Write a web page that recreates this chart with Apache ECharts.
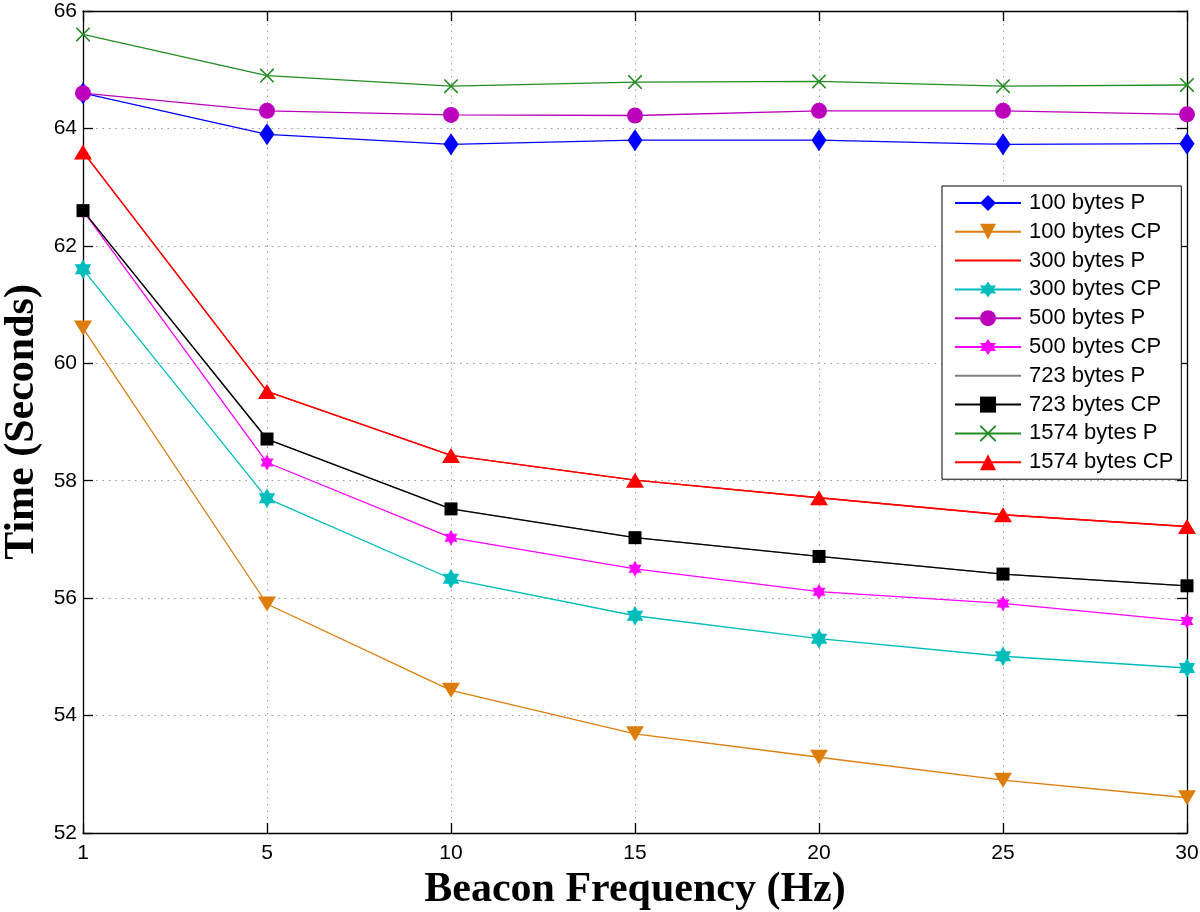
<!DOCTYPE html>
<html>
<head>
<meta charset="utf-8">
<script src="https://cdn.jsdelivr.net/npm/echarts@6/dist/echarts.min.js"></script>
<style>html,body{margin:0;padding:0;background:#fff;}#c{width:1200px;height:912px;}</style>
</head>
<body>
<div id="c"></div>
<script>
const categories = ['1','5','10','15','20','25','30'];
const yTicks = [52,54,56,58,60,62,64,66];

const b100P   = [64.6, 63.9, 63.73, 63.8, 63.8, 63.73, 63.74];
const b100CP  = [60.6, 55.9, 54.43, 53.69, 53.29, 52.9, 52.6];
const b300P   = [63.6, 59.52, 58.43, 58.01, 57.71, 57.42, 57.22];
const b300CP  = [61.6, 57.7, 56.33, 55.7, 55.31, 55.01, 54.81];
const b500P   = [64.6, 64.3, 64.23, 64.22, 64.3, 64.3, 64.24];
const b500CP  = [62.6, 58.31, 57.03, 56.5, 56.11, 55.91, 55.61];
const b723P   = [62.6, 58.71, 57.52, 57.03, 56.71, 56.41, 56.21];
const b723CP  = [62.6, 58.71, 57.52, 57.03, 56.71, 56.41, 56.21];
const b1574P  = [65.6, 64.9, 64.72, 64.79, 64.8, 64.72, 64.74];
const b1574CP = [63.6, 59.52, 58.43, 58.01, 57.71, 57.42, 57.22];

const hexagram = 'path://M0,-100L28.9,-50L86.6,-50L57.7,0L86.6,50L28.9,50L0,100L-28.9,50L-86.6,50L-57.7,0L-86.6,-50L-28.9,-50Z';
const xMark = 'path://M0,0L1.6,0L10,8.4L18.4,0L20,0L20,1.6L11.6,10L20,18.4L20,20L18.4,20L10,11.6L1.6,20L0,20L0,18.4L8.4,10L0,1.6Z';

function s(name, data, color, symbol, size, extra) {
  return Object.assign({
    name, type: 'line', data,
    symbol, symbolSize: size, symbolKeepAspect: true,
    lineStyle: { color, width: 1.3 },
    itemStyle: { color },
    showSymbol: symbol !== 'none',
    animation: false,
    xAxisIndex: 0, yAxisIndex: 0
  }, extra || {});
}

const chart = echarts.init(document.getElementById('c'));
const axisFont = { fontFamily: 'Liberation Sans', fontSize: 21, color: '#000' };
const nameFont = { fontFamily: 'Liberation Serif', fontSize: 42, fontWeight: 'bold', color: '#000' };

const legendNames = ['100 bytes P','100 bytes CP','300 bytes P','300 bytes CP','500 bytes P','500 bytes CP','723 bytes P','723 bytes CP','1574 bytes P','1574 bytes CP'];
const noMarker = ['300 bytes P','723 bytes P'];

chart.setOption({
  backgroundColor: '#fff',
  animation: false,
  grid: { left: 83, right: 13, top: 11, bottom: 79, show: false, containLabel: false, outerBoundsMode: 'none' },
  xAxis: [
    {
      type: 'category', data: categories, boundaryGap: false,
      axisLine: { lineStyle: { color: '#000', width: 1.3 } },
      axisTick: { inside: true, length: 10, lineStyle: { color: '#000', width: 1.3 } },
      axisLabel: Object.assign({ margin: 10 }, axisFont),
      splitLine: { show: true, lineStyle: { color: '#9a9a9a', type: [1.5, 5], width: 1 } },
      name: 'Beacon Frequency (Hz)', nameLocation: 'middle', nameGap: 30,
      nameTextStyle: nameFont
    },
    {
      type: 'category', data: categories, boundaryGap: false, position: 'top',
      axisLine: { lineStyle: { color: '#000', width: 1.3 } },
      axisTick: { inside: true, length: 10, lineStyle: { color: '#000', width: 1.3 } },
      axisLabel: { show: false }, splitLine: { show: false }
    }
  ],
  yAxis: [
    {
      type: 'value', min: 52, max: 66, interval: 2,
      axisLine: { show: true, lineStyle: { color: '#000', width: 1.3 } },
      axisTick: { show: true, inside: true, length: 10, lineStyle: { color: '#000', width: 1.3 } },
      axisLabel: Object.assign({ margin: 6 }, axisFont),
      splitLine: { show: true, lineStyle: { color: '#9a9a9a', type: [1.5, 5], width: 1 } },
      name: 'Time (Seconds)', nameLocation: 'middle', nameGap: 40,
      nameTextStyle: nameFont
    },
    {
      type: 'value', min: 52, max: 66, interval: 2, position: 'right',
      axisLine: { show: true, lineStyle: { color: '#000', width: 1.3 } },
      axisTick: { show: true, inside: true, length: 10, lineStyle: { color: '#000', width: 1.3 } },
      axisLabel: { show: false }, splitLine: { show: false }
    }
  ],
  legend: {
    orient: 'vertical', left: 942, top: 186,
    backgroundColor: '#fff', borderColor: '#000', borderWidth: 1,
    padding: [6, 8, 6, 12],
    itemWidth: 66, itemHeight: 20, itemGap: 6.8,
    textStyle: { fontFamily: 'Liberation Sans', fontSize: 22, color: '#000', lineHeight: 22, padding: [0, 0, 0, 3] },
    data: legendNames.map(n => noMarker.includes(n) ? { name: n, itemStyle: { opacity: 0 } } : n)
  },
  series: [
    s('300 bytes P', b300P, '#ff0000', 'none', 0),
    s('723 bytes P', b723P, '#808080', 'none', 0),
    s('100 bytes P', b100P, '#0000ff', 'diamond', [15, 22]),
    s('100 bytes CP', b100CP, '#dc7d0c', 'triangle', [18, 15], { symbolRotate: 180 }),
    s('300 bytes CP', b300CP, '#00bdbd', hexagram, [19, 20]),
    s('500 bytes P', b500P, '#bb00bb', 'circle', 16),
    s('500 bytes CP', b500CP, '#ff00ff', hexagram, [15, 16]),
    s('723 bytes CP', b723CP, '#000000', 'rect', 13),
    s('1574 bytes P', b1574P, '#238c23', xMark, 14),
    s('1574 bytes CP', b1574CP, '#ff0000', 'triangle', [18, 15])
  ]
});
</script>
</body>
</html>
